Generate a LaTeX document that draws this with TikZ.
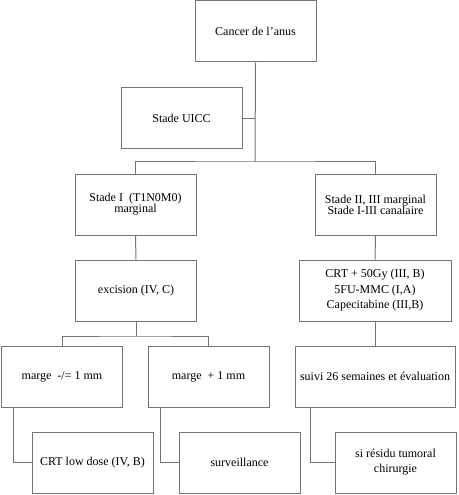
\documentclass[tikz,border=0pt]{standalone}
\usepackage{fontspec}
\setmainfont{Liberation Serif}
\usetikzlibrary{calc, positioning}
\tikzset{
  font=\fontsize{12}{11}\selectfont,
  % Flowchart box
  box/.style={draw=gray!90!black, line width=1pt, shape=rectangle, align=center,
    minimum width=121pt, minimum height=61pt, inner sep=2pt},
  % Wider box
  wbox/.style={box, minimum width=152pt},
  % Connector
  link/.style={draw=gray!90!black, line width=1pt},
}
\begin{document}
\begin{tikzpicture}[x=1pt, y=-1pt]
  \useasboundingbox (0,0) rectangle (458,495);

  \node[box] (anus) at (255.5,31.5) {Cancer de l’anus};
  \node[box] (uicc) at (181.5,118) {Stade UICC};

  \node[box] (stadeI) at (135.5,204.5) {Stade I~~(T1N0M0)\\marginal};
  \node[box] (stadeII) at (375.5,204.5) {Stade II, III marginal\\Stade I-III canalaire};

  \node[box, font=\fontsize{12}{15}\selectfont] (excision) at (136,290.5) {excision (IV, C)};
  \node[wbox, font=\fontsize{12}{15.5}\selectfont] (crt) at (375,290.5)
    {CRT + 50Gy (III, B)\\5FU-MMC (I,A)\\Capecitabine (III,B)};

  \node[box] (margeA) at (62,376.5) {marge~~-/= 1 mm};
  \node[box] (margeB) at (208.5,376.5) {marge~~+ 1 mm};
  \node[box, minimum width=160pt] (suivi) at (375,376.5) {suivi 26 semaines et évaluation};

  \node[box] (lowdose) at (92.5,462.5) {CRT low dose (IV, B)};
  \node[box] (surv) at (239.5,462.5) {surveillance};
  \node[box, font=\fontsize{12}{15}\selectfont] (residu) at (395.5,462.5) {si résidu tumoral\\chirurgie};

  % tree
  \coordinate (split) at (255,161);
  \draw[link] (anus.south) -- (split);
  \draw[link] (uicc.east) -- (uicc.east -| split);
  \draw[link] (stadeI.north) |- (split) -| (stadeII.north);

  \draw[link] (stadeI.south) -- (excision.north);
  \draw[link] (stadeII.south) -- (crt.north);
  \draw[link] (crt.south) -- (suivi.north);

  \coordinate (fork) at (136,336);
  \draw[link] (excision.south) -- (fork);
  \draw[link] (margeA.north) |- (fork) -| (margeB.north);

  % elbows to the last row
  \draw[link] ($(margeA.south west)+(12,0)$) |- (lowdose.west);
  \draw[link] ($(margeB.south west)+(12.5,0)$) |- (surv.west);
  \draw[link] ($(suivi.south west)+(16,0)$) |- (residu.west);
\end{tikzpicture}
\end{document}
